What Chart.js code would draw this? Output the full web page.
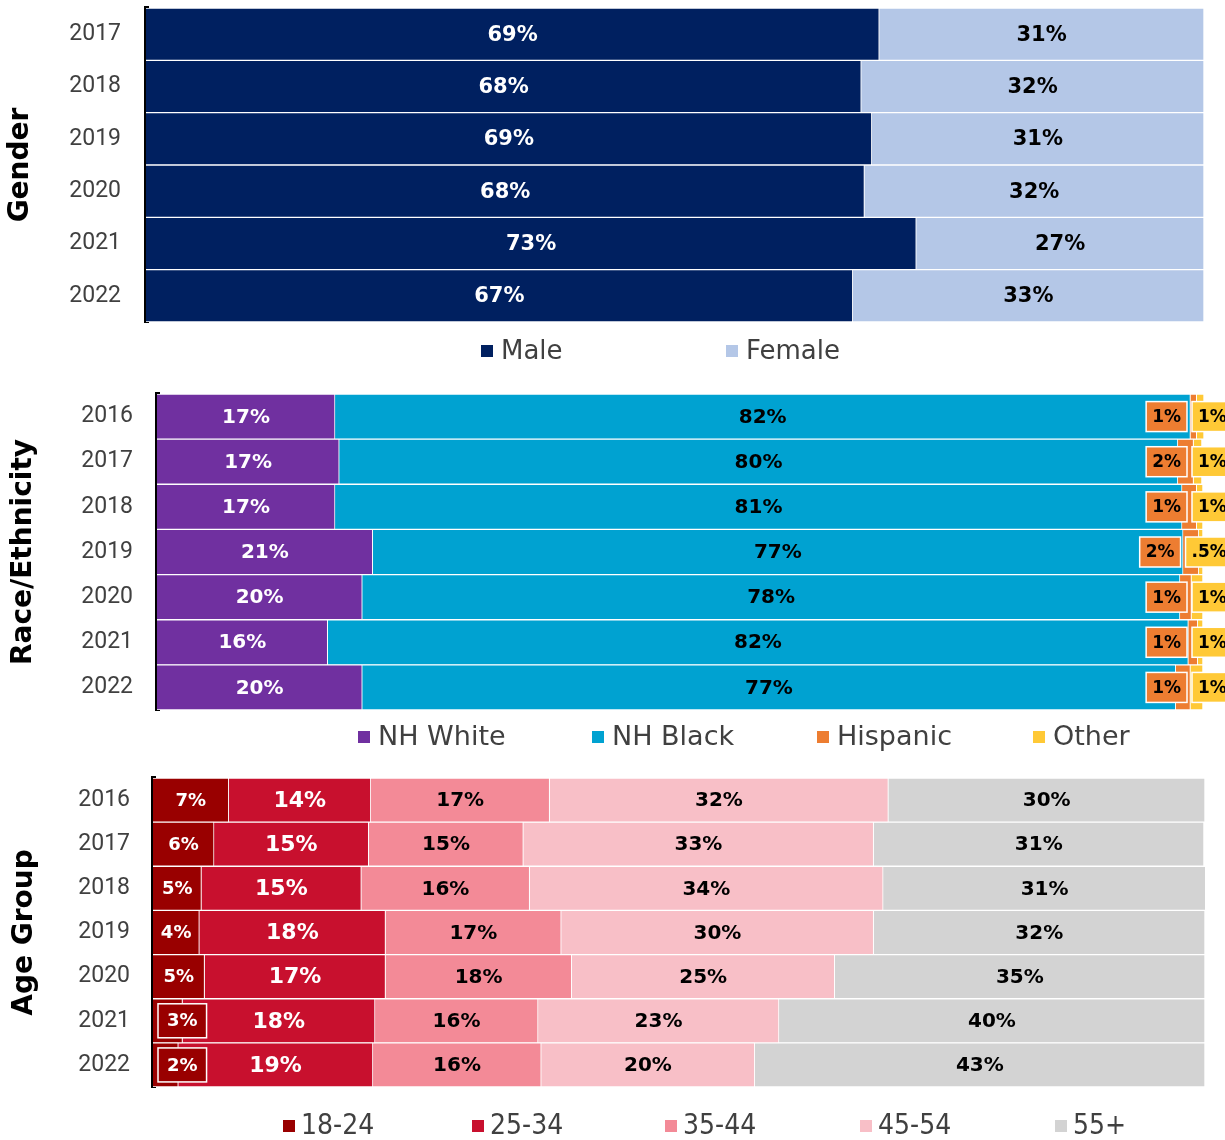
<!DOCTYPE html>
<html>
<head>
<meta charset="utf-8">
<script src="https://cdn.jsdelivr.net/npm/chart.js@4.4.1/dist/chart.umd.min.js"></script>
<style>
html,body{margin:0;padding:0;background:#fff;}
#wrap{position:relative;width:1225px;height:1140px;overflow:hidden;background:#fff;}
canvas{position:absolute;left:0;}
</style>
</head>
<body>
<div id="wrap">
<canvas id="c1" width="1225" height="380" style="top:0px"></canvas>
<canvas id="c2" width="1225" height="390" style="top:380px"></canvas>
<canvas id="c3" width="1225" height="370" style="top:770px"></canvas>
</div>
<script>
// ---------------- DATA ----------------
// Gender
const genderYears = ['2017', '2018', '2019', '2020', '2021', '2022'];
const maleShare   = [69.3, 67.6, 68.6, 67.9, 72.8, 66.8];
const femaleShare = [30.7, 32.4, 31.4, 32.1, 27.2, 33.2];
const maleLabels   = ['69%', '68%', '69%', '68%', '73%', '67%'];
const femaleLabels = ['31%', '32%', '31%', '32%', '27%', '33%'];

// Race / Ethnicity
const raceYears = ['2016', '2017', '2018', '2019', '2020', '2021', '2022'];
const nhWhite  = [17.0, 17.4, 17.0, 20.6, 19.6, 16.3, 19.6];
const nhBlack  = [81.7, 80.1, 80.9, 77.4, 78.1, 82.2, 77.7];
const hispanic = [0.6, 1.5, 1.4, 1.5, 1.1, 0.9, 1.4];
const otherRace = [0.7, 0.8, 0.6, 0.4, 1.1, 0.5, 1.2];
const nhWhiteLabels  = ['17%', '17%', '17%', '21%', '20%', '16%', '20%'];
const nhBlackLabels  = ['82%', '80%', '81%', '77%', '78%', '82%', '77%'];
const hispanicLabels = ['1%', '2%', '1%', '2%', '1%', '1%', '1%'];
const otherLabels    = ['1%', '1%', '1%', '.5%', '1%', '1%', '1%'];

// Age group
const ageYears = ['2016', '2017', '2018', '2019', '2020', '2021', '2022'];
const age1824 = [7.2, 5.8, 4.6, 4.4, 4.9, 2.8, 2.4];
const age2534 = [13.5, 14.7, 15.2, 17.7, 17.2, 18.3, 18.5];
const age3544 = [17.0, 14.7, 16.0, 16.7, 17.7, 15.5, 16.0];
const age4554 = [32.2, 33.3, 33.6, 29.7, 25.0, 22.9, 20.3];
const age55   = [30.1, 31.4, 30.7, 31.5, 35.2, 40.5, 42.8];
const age1824Labels = ['7%', '6%', '5%', '4%', '5%', '3%', '2%'];
const age2534Labels = ['14%', '15%', '15%', '18%', '17%', '18%', '19%'];
const age3544Labels = ['17%', '15%', '16%', '17%', '18%', '16%', '16%'];
const age4554Labels = ['32%', '33%', '34%', '30%', '25%', '23%', '20%'];
const age55Labels   = ['30%', '31%', '31%', '32%', '35%', '40%', '43%'];

// ---------------- STYLE ----------------
const FONT = '"DejaVu Sans", "Noto Sans", sans-serif';
const TICK_FONT = 'Roboto, "Open Sans", sans-serif';
const COND_FONT = '"DejaVu Sans Condensed", "Liberation Sans Narrow", "DejaVu Sans", sans-serif';

function boxLabel(ctx, text, x, yc, w, h, fill, color) {
  ctx.fillStyle = fill;
  ctx.fillRect(x, yc - h / 2, w, h);
  ctx.strokeStyle = '#ffffff';
  ctx.lineWidth = 1.5;
  ctx.strokeRect(x, yc - h / 2, w, h);
  ctx.fillStyle = color;
  ctx.textAlign = 'center';
  ctx.fillText(text, x + w / 2, yc + 1);
}

function otherBoxLeft(ctx, area, st, text) {
  ctx.font = st.font;
  const tw = ctx.measureText(text).width;
  const ref = ctx.measureText('1%').width;
  return area.right - st.anchorGap - Math.max(0, tw - ref);
}

const barLabels = {
  id: 'barLabels',
  afterDatasetsDraw(chart) {
    const ctx = chart.ctx;
    const area = chart.chartArea;
    ctx.save();
    ctx.textBaseline = 'middle';
    chart.data.datasets.forEach((ds, di) => {
      const meta = chart.getDatasetMeta(di);
      const st = ds.labelStyle;
      if (!st) return;
      meta.data.forEach((el, i) => {
        const text = ds.labelText[i];
        const p = el.getProps(['x', 'y', 'base'], true);
        const left = Math.min(p.x, p.base), right = Math.max(p.x, p.base);
        ctx.font = st.font;
        const tw = ctx.measureText(text).width;
        let mode = st.mode;
        if (mode === 'auto') mode = (tw + 8 > right - left) ? 'boxStart' : 'center';
        if (mode === 'center') {
          ctx.fillStyle = st.color;
          ctx.textAlign = 'center';
          ctx.fillText(text, (left + right) / 2, p.y + 1);
        } else if (mode === 'boxStart') {
          boxLabel(ctx, text, area.left + st.boxOffset, p.y, tw + st.boxPad * 2, st.boxH, ds.backgroundColor, st.color);
        } else if (mode === 'boxOther') {
          const bx = otherBoxLeft(ctx, area, st, text);
          ctx.font = st.font;
          boxLabel(ctx, text, bx, p.y, tw + st.boxPad * 2, st.boxH, ds.backgroundColor, st.color);
        } else if (mode === 'boxBeforeOther') {
          const partner = chart.data.datasets[st.partner];
          const ol = otherBoxLeft(ctx, area, partner.labelStyle, partner.labelText[i]);
          ctx.font = st.font;
          const w = tw + st.boxPad * 2;
          boxLabel(ctx, text, ol - st.gapToPartner - w, p.y, w, st.boxH, ds.backgroundColor, st.color);
        }
      });
    });
    ctx.restore();
  }
};

const boxLegend = {
  id: 'boxLegend',
  afterDraw(chart, args, opts) {
    const ctx = chart.ctx;
    ctx.save();
    ctx.font = opts.font;
    ctx.textBaseline = 'middle';
    ctx.textAlign = 'left';
    chart.data.datasets.forEach((ds, i) => {
      const x = opts.xs[i];
      ctx.fillStyle = ds.backgroundColor;
      ctx.fillRect(x, opts.y - opts.box / 2, opts.box, opts.box);
      ctx.fillStyle = opts.color;
      ctx.fillText(ds.label, x + opts.box + opts.gap, opts.y + 1);
    });
    ctx.restore();
  }
};

function makeChart(id, cfg) {
  return new Chart(document.getElementById(id), {
    type: 'bar',
    data: { labels: cfg.labels, datasets: cfg.datasets.map(d => Object.assign({
      borderColor: '#ffffff',
      borderWidth: { top: 1, bottom: 1, right: 1, left: 0 },
      borderSkipped: false,
      categoryPercentage: 1,
      barPercentage: 1
    }, d)) },
    options: {
      indexAxis: 'y',
      responsive: false,
      animation: false,
      devicePixelRatio: 1,
      layout: { padding: cfg.padding },
      plugins: {
        legend: { display: false },
        tooltip: { enabled: false },
        boxLegend: cfg.legend
      },
      scales: {
        x: { stacked: true, min: 0, max: 100, display: false },
        y: {
          stacked: true,
          grid: { display: false, drawTicks: false },
          border: { display: true, color: '#000000', width: 5 },
          ticks: { color: '#404040', font: { family: TICK_FONT, size: 23 }, padding: cfg.tickPad },
          title: {
            display: true, text: cfg.title, color: '#000000',
            font: { family: FONT, size: 28, weight: 'bold', lineHeight: 1.2 },
            padding: { top: cfg.titlePad, bottom: 0 }
          },
          afterFit: (s) => { s.width = cfg.axisWidth; s.paddingTop = 0; s.paddingBottom = 0; }
        }
      }
    },
    plugins: [barLabels, boxLegend]
  });
}

const centerWhite = (size) => ({ mode: 'center', color: '#ffffff', font: 'bold ' + size + 'px ' + FONT });
const centerBlack = (size) => ({ mode: 'center', color: '#000000', font: 'bold ' + size + 'px ' + FONT });

// Gender chart
makeChart('c1', {
  labels: genderYears,
  title: 'Gender',
  titlePad: 4,
  tickPad: 25,
  axisWidth: 146,
  padding: { top: 8, bottom: 58, left: 0, right: 21 },
  legend: { xs: [481, 726], y: 351, box: 12, gap: 8, font: '26px ' + FONT, color: '#404040' },
  datasets: [
    { label: 'Male', data: maleShare, backgroundColor: '#002060', labelText: maleLabels, labelStyle: centerWhite(21) },
    { label: 'Female', data: femaleShare, backgroundColor: '#B4C7E7', labelText: femaleLabels, labelStyle: centerBlack(21) }
  ]
});

// Race / Ethnicity chart
makeChart('c2', {
  labels: raceYears,
  title: 'Race/Ethnicity',
  titlePad: 7,
  tickPad: 24,
  axisWidth: 157,
  padding: { top: 14, bottom: 60, left: 0, right: 21 },
  legend: { xs: [358, 592, 817, 1033], y: 357, box: 12, gap: 8, font: '27px ' + FONT, color: '#404040' },
  datasets: [
    { label: 'NH White', data: nhWhite, backgroundColor: '#7030A0', labelText: nhWhiteLabels, labelStyle: centerWhite(20) },
    { label: 'NH Black', data: nhBlack, backgroundColor: '#00A2D1', labelText: nhBlackLabels, labelStyle: centerBlack(20) },
    { label: 'Hispanic', data: hispanic, backgroundColor: '#ED7D31', labelText: hispanicLabels,
      labelStyle: { mode: 'boxBeforeOther', partner: 3, gapToPartner: 5, color: '#000000', font: 'bold 17px ' + FONT, boxPad: 6, boxH: 30 } },
    { label: 'Other', data: otherRace, backgroundColor: '#FFC936', labelText: otherLabels,
      labelStyle: { mode: 'boxOther', anchorGap: 12, color: '#000000', font: 'bold 17px ' + FONT, boxPad: 6, boxH: 30 } }
  ]
});

// Age group chart
makeChart('c3', {
  labels: ageYears,
  title: 'Age Group',
  titlePad: 8,
  tickPad: 23,
  axisWidth: 153,
  padding: { top: 8, bottom: 53, left: 0, right: 20 },
  legend: { xs: [283, 472, 665, 860, 1055], y: 356, box: 12, gap: 6, font: '28px ' + COND_FONT, color: '#404040' },
  datasets: [
    { label: '18-24', data: age1824, backgroundColor: '#990000', labelText: age1824Labels,
      labelStyle: { mode: 'auto', color: '#ffffff', font: 'bold 18px ' + FONT, boxOffset: 5, boxPad: 9, boxH: 34 } },
    { label: '25-34', data: age2534, backgroundColor: '#C8102E', labelText: age2534Labels, labelStyle: centerWhite(22) },
    { label: '35-44', data: age3544, backgroundColor: '#F38A97', labelText: age3544Labels, labelStyle: centerBlack(20) },
    { label: '45-54', data: age4554, backgroundColor: '#F8BFC7', labelText: age4554Labels, labelStyle: centerBlack(20) },
    { label: '55+', data: age55, backgroundColor: '#D3D3D3', labelText: age55Labels, labelStyle: centerBlack(20) }
  ]
});
</script>
</body>
</html>
